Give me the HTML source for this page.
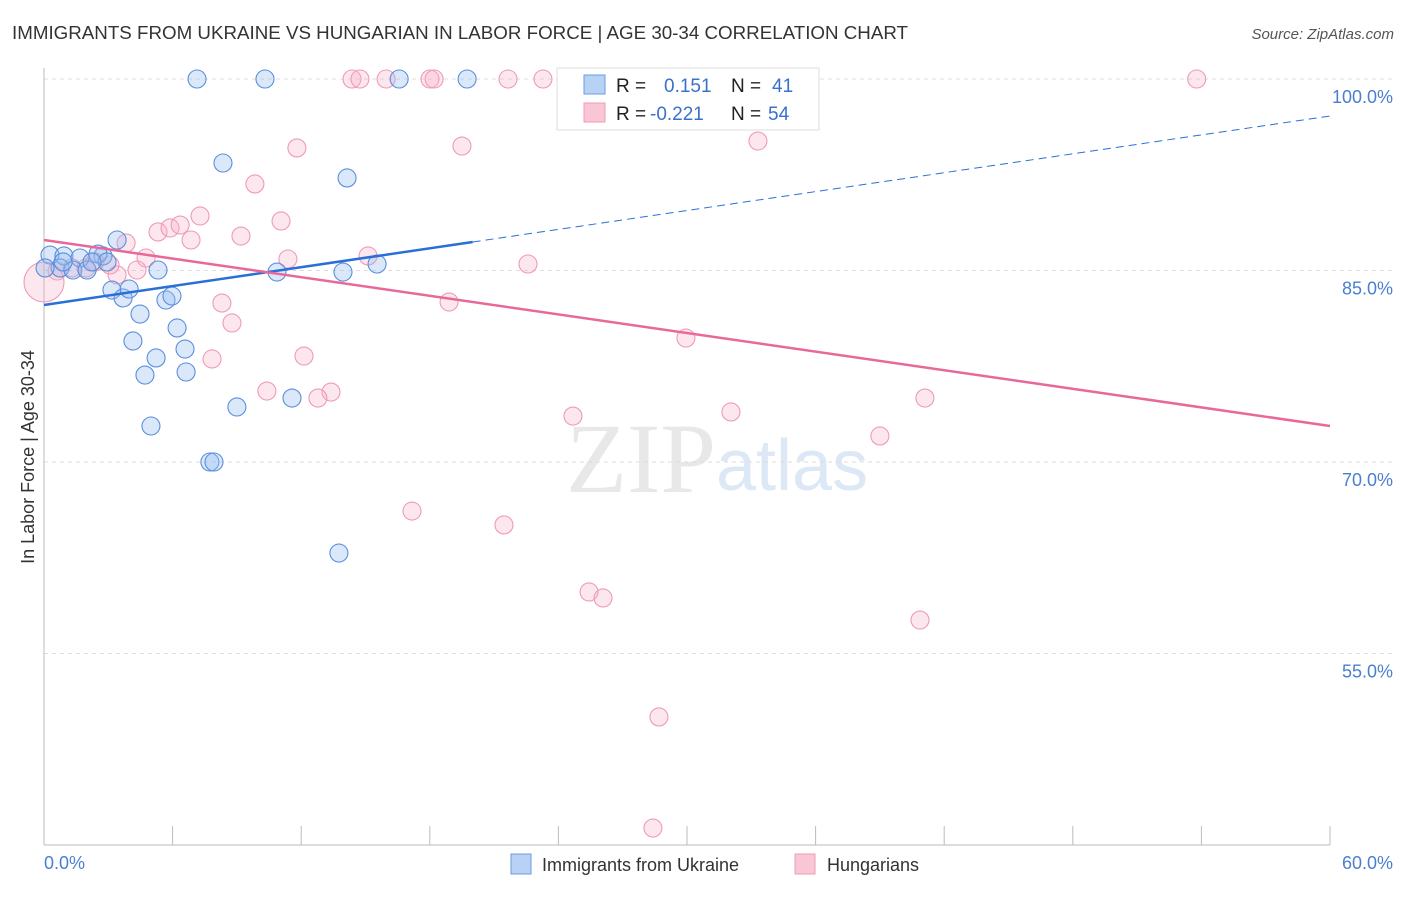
<!DOCTYPE html>
<html><head><meta charset="utf-8"><style>
body{margin:0;background:#fff;font-family:"Liberation Sans",sans-serif;}
</style></head><body>
<svg width="1406" height="892" xmlns="http://www.w3.org/2000/svg" style="font-family:'Liberation Sans',sans-serif">
<text x="12" y="39" font-size="18" fill="#333" textLength="896" lengthAdjust="spacingAndGlyphs">IMMIGRANTS FROM UKRAINE VS HUNGARIAN IN LABOR FORCE | AGE 30-34 CORRELATION CHART</text>
<text x="1394" y="39" font-size="15" fill="#555" font-style="italic" text-anchor="end">Source: ZipAtlas.com</text>
<text x="716" y="492" font-size="100" fill="#e8e8e8" text-anchor="end" font-family="Liberation Serif">ZIP</text>
<text x="716" y="490" font-size="72" fill="#dde8f6">atlas</text>
<g id="grid"></g>
<line x1="44" y1="68" x2="44" y2="845" stroke="#bbb"/>
<line x1="44" y1="845" x2="1330" y2="845" stroke="#bbb"/>
<g id="xt"></g>
<text x="44" y="869" font-size="18" fill="#4a7fd0">0.0%</text>
<text x="1393" y="869" font-size="18" fill="#4a7fd0" text-anchor="end">60.0%</text>
<text transform="translate(34,457) rotate(-90)" font-size="18" fill="#333" text-anchor="middle">In Labor Force | Age 30-34</text>
<g id="pts"></g>
<g id="lines"></g>
<g>
<rect x="557" y="68" width="262" height="62" fill="#fff" stroke="#ddd"/>
<rect x="584" y="75" width="21" height="19" fill="#b8d2f5" stroke="#6a9be0"/>
<rect x="584" y="103" width="21" height="19" fill="#f9c6d5" stroke="#f09ab5"/>
<text x="616" y="92" font-size="19" fill="#222">R =</text>
<text x="664" y="92" font-size="19" fill="#3a70cc">0.151</text>
<text x="731" y="92" font-size="19" fill="#222">N =</text>
<text x="772" y="92" font-size="19" fill="#3a70cc">41</text>
<text x="616" y="120" font-size="19" fill="#222">R =</text>
<text x="650" y="120" font-size="19" fill="#3a70cc">-0.221</text>
<text x="731" y="120" font-size="19" fill="#222">N =</text>
<text x="768" y="120" font-size="19" fill="#3a70cc">54</text>
</g>
<g>
<rect x="511" y="854" width="20" height="20" fill="#b8d2f5" stroke="#6a9be0"/>
<text x="542" y="871" font-size="18" fill="#333">Immigrants from Ukraine</text>
<rect x="795" y="854" width="20" height="20" fill="#f9c6d5" stroke="#f09ab5"/>
<text x="827" y="871" font-size="18" fill="#333">Hungarians</text>
</g>
</svg>
<script>
const yTicks=[100,85,70,55];
const yTickLabels=["100.0%","85.0%","70.0%","55.0%"];
const xTicks=[0,6,12,18,24,30,36,42,48,54,60];
const blueX=[7.14,10.31,16.57,19.74,8.35,14.14,3.41,0.28,0.93,1.68,2.75,2.52,2.94,0.75,1.35,2.01,0.05,5.32,10.87,13.95,15.54,3.17,3.69,3.97,5.69,5.97,4.48,6.21,4.15,6.58,5.23,4.71,6.63,9.00,11.57,4.99,7.74,7.93,13.76,0.89,2.24];
const blueY=[100,100,100,100,93.42,92.25,87.39,86.21,86.14,85.98,86.14,86.29,85.67,85.20,85.04,85.04,85.20,85.04,84.88,84.88,85.51,83.47,82.85,83.55,82.69,83.00,81.59,80.50,79.48,78.85,78.15,76.81,77.05,74.31,75.01,72.82,70.00,70.00,62.87,85.67,85.67];
const pinkX=[14.37,14.74,15.96,18.01,18.20,21.65,23.28,53.78,26.69,30.28,11.80,19.50,33.31,9.84,7.28,11.06,9.19,5.32,5.88,6.35,6.86,3.83,4.76,11.38,15.12,22.58,4.34,3.41,1.31,0.61,0,8.30,18.90,8.77,29.95,7.84,12.13,10.40,13.39,12.78,24.68,32.05,41.10,39.00,17.17,21.46,25.43,26.08,40.87,28.69,28.41,2.38,3.08,1.96];
const pinkY=[100,100,100,100,100,100,100,100,99.9,100,94.60,94.75,95.14,91.78,89.27,88.88,87.70,88.02,88.33,88.56,87.39,87.15,85.98,85.90,86.14,85.51,85.04,84.65,85.20,84.96,84.10,82.45,82.53,80.89,79.71,78.07,78.30,75.56,75.48,75.01,73.60,73.92,75.01,72.04,66.16,65.07,59.82,59.35,57.62,50.03,41.33,85.67,85.43,85.20];
const blueTrend=[82.30,97.10];
const pinkTrend=[87.39,72.82];
const blueSolidEnd=20;
const NS="http://www.w3.org/2000/svg";
const X=v=>44+v/60*1286;
const Y=v=>79+(100-v)/15*191.5;
function mk(t,a,p){const e=document.createElementNS(NS,t);for(const k in a)e.setAttribute(k,a[k]);p.appendChild(e);return e;}
const grid=document.getElementById('grid');
yTicks.forEach((t,i)=>{
 const l=mk('line',{x1:44,x2:1393,y1:Y(t),y2:Y(t),stroke:'#ddd','stroke-dasharray':'4,4'},grid);
 
 
 const tx=mk('text',{x:1393,y:Y(t)+24,'font-size':18,fill:'#4a7fd0','text-anchor':'end'},grid);
 tx.textContent=yTickLabels[i];
 
 
});
const xt=document.getElementById('xt');
xTicks.forEach(t=>{
 const l=mk('line',{x1:X(t),x2:X(t),y1:826,y2:845,stroke:'#bbb'},xt);
 
 
});
const pts=document.getElementById('pts');
pinkX.forEach((v,i)=>{
 const c=mk('circle',{cx:X(v),cy:Y(pinkY[i]),r:i==30?20:9,fill:'rgba(248,175,198,0.3)',stroke:'#f09ab5','stroke-width':1.1},pts);
 
 
});
blueX.forEach((v,i)=>{
 const c=mk('circle',{cx:X(v),cy:Y(blueY[i]),r:9,fill:'rgba(150,190,240,0.35)',stroke:'#5b8fdc','stroke-width':1.1},pts);
 
 
});
const lines=document.getElementById('lines');
const by=v=>blueTrend[0]+(blueTrend[1]-blueTrend[0])*v/60;
let a=mk('line',{x1:X(0),y1:Y(by(0)),x2:X(blueSolidEnd),y2:Y(by(blueSolidEnd)),stroke:'#2a6fd6','stroke-width':2.5},lines);


a=mk('line',{x1:X(blueSolidEnd),y1:Y(by(blueSolidEnd)),x2:X(60),y2:Y(by(60)),stroke:'#2a6fd6','stroke-width':1,'stroke-dasharray':'8,5'},lines);


a=mk('line',{x1:X(0),y1:Y(pinkTrend[0]),x2:X(60),y2:Y(pinkTrend[1]),stroke:'#e8689a','stroke-width':2.5},lines);


</script>
</body></html>
